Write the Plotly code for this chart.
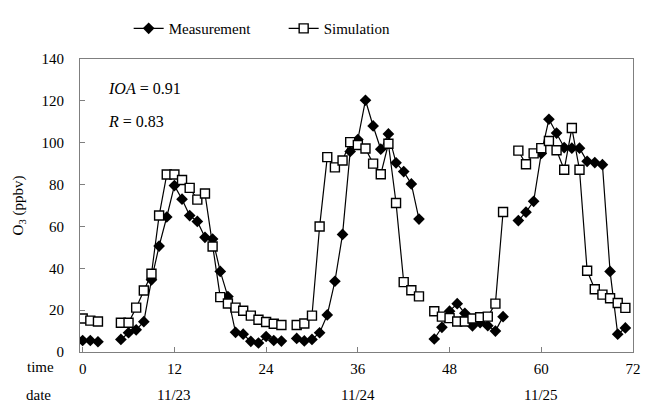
import plotly.graph_objects as go

# hours 0..71 (None = missing)
hours = list(range(72))

measurement = [
    5.5, 5.5, 4.9, None, None, 6.0, 9.2, 10.6, 14.5, 34.5,
    50.6, 64.5, 79.5, 73.0, 65.2, 62.4, 54.8, 54.0, 38.5, 26.5,
    9.4, 8.5, 5.1, 4.3, 7.4, 5.5, 5.2, None, 6.5, 5.3,
    6.0, 9.2, 17.7, 33.8, 56.2, 95.8, 101.5, 120.3, 108.0, 96.9,
    104.2, 90.4, 86.2, 80.3, 63.5, None, 6.2, 11.8, 19.5, 23.1,
    18.5, 12.5, 14.0, 12.6, 10.0, 16.9, None, 62.8, 66.8, 72.0,
    94.9, 111.2, 104.6, 97.7, 97.4, 97.4, 91.1, 90.5, 89.5, 38.5,
    8.5, 11.5,
]

simulation = [
    16.0, 15.0, 14.6, None, None, 14.0, 14.0, 21.2, 29.4, 37.4,
    65.2, 84.8, 84.8, 82.2, 78.4, 72.8, 75.7, 50.4, 26.2, 23.2,
    21.2, 19.7, 17.4, 15.4, 14.3, 13.5, 12.9, None, 12.9, 13.6,
    17.4, 60.0, 93.1, 88.2, 91.5, 100.3, 98.9, 97.2, 90.0, 84.9,
    99.5, 71.2, 33.4, 29.5, 26.6, None, 19.5, 16.9, 16.2, 14.6,
    14.6, 16.0, 16.6, 16.9, 23.1, 66.9, None, 96.2, 89.7, 94.9,
    97.4, 100.8, 96.4, 87.1, 107.0, 87.1, 38.8, 30.0, 27.4, 25.7,
    23.4, 21.1,
]

x_ticks = [0, 12, 24, 36, 48, 60, 72]
y_ticks = [0, 20, 40, 60, 80, 100, 120, 140]
date_pos = [12, 36, 60]
date_labels = ["11/23", "11/24", "11/25"]

FONT = "Liberation Serif"
AX = "#7f7f7f"

fig = go.Figure()
fig.add_trace(go.Scatter(
    x=hours, y=measurement, name="Measurement", mode="lines+markers",
    line=dict(color="black", width=1.2),
    marker=dict(symbol="diamond", size=9, color="black"),
))
fig.add_trace(go.Scatter(
    x=hours, y=simulation, name="Simulation", mode="lines+markers",
    line=dict(color="black", width=1.2),
    marker=dict(symbol="square", size=9, color="white",
                line=dict(color="black", width=1.4)),
))

fig.update_layout(
    width=659, height=407,
    margin=dict(l=80, r=26, t=47, b=55),
    paper_bgcolor="white", plot_bgcolor="white",
    font=dict(family=FONT, size=15, color="black"),
    showlegend=True,
    legend=dict(orientation="h", x=0.088, xanchor="left", y=1.16, yanchor="top",
                font=dict(family=FONT, size=15), entrywidth=110,
                bgcolor="rgba(0,0,0,0)", itemwidth=30),
)
fig.update_xaxes(
    range=[-0.35, 72], tickvals=x_ticks, ticktext=[str(v) for v in x_ticks],
    showgrid=False, zeroline=False, showline=True, linecolor=AX, linewidth=1,
    mirror=True, ticks="inside", ticklen=5, tickcolor=AX,
    ticklabelstandoff=3, tickfont=dict(family=FONT, size=15),
)
fig.update_yaxes(
    range=[0, 140], tickvals=y_ticks, showgrid=False, zeroline=False,
    showline=True, linecolor=AX, linewidth=1, mirror=True,
    ticks="inside", ticklen=5, tickcolor=AX, ticklabelstandoff=12,
    tickfont=dict(family=FONT, size=15),
    title=dict(text="O<sub>3</sub> (ppbv)", font=dict(family=FONT, size=15), standoff=14),
)

anns = [
    dict(text="<i>IOA</i> = 0.91", xref="paper", yref="paper", x=0.047, y=0.898,
         xanchor="left", yanchor="middle", showarrow=False, font=dict(size=16)),
    dict(text="<i>R</i> = 0.83", xref="paper", yref="paper", x=0.047, y=0.787,
         xanchor="left", yanchor="middle", showarrow=False, font=dict(size=16)),
    dict(text="time", xref="paper", yref="paper", x=-0.072, y=-0.05,
         xanchor="center", yanchor="middle", showarrow=False, font=dict(size=15)),
    dict(text="date", xref="paper", yref="paper", x=-0.075, y=-0.148,
         xanchor="center", yanchor="middle", showarrow=False, font=dict(size=15)),
]
for p, lab in zip(date_pos, date_labels):
    anns.append(dict(text=lab, xref="x", yref="paper", x=p, y=-0.148,
                     xanchor="center", yanchor="middle", showarrow=False,
                     font=dict(size=15)))
fig.update_layout(annotations=anns)

fig.write_html("out.html")
